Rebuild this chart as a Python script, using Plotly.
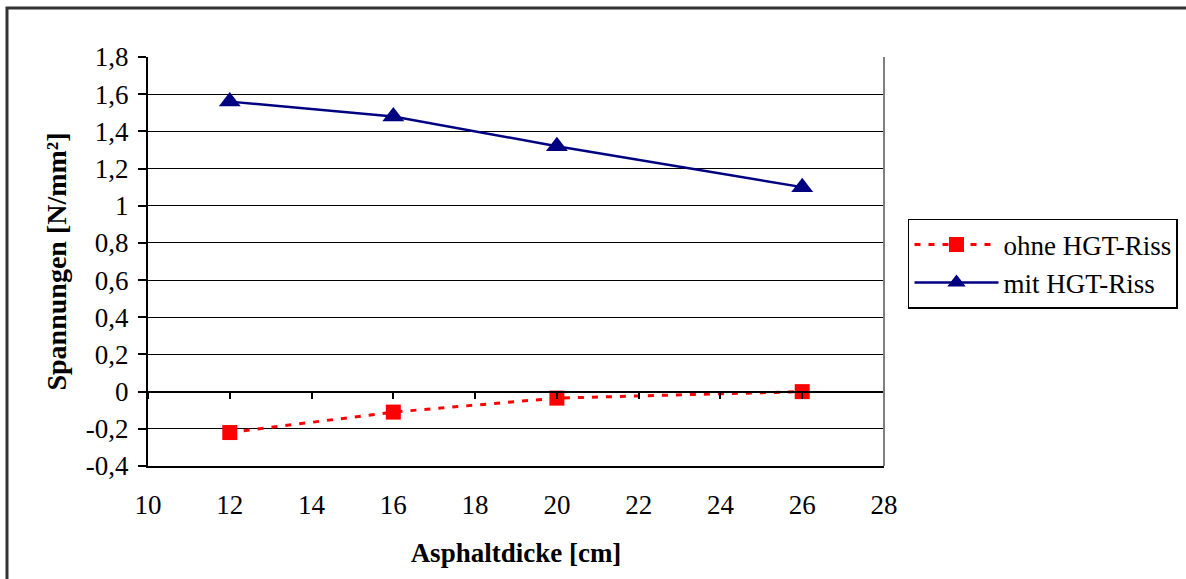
import plotly.graph_objects as go

x_vals = [12, 16, 20, 26]
ohne = [-0.22, -0.11, -0.035, 0.0]
mit = [1.56, 1.48, 1.32, 1.10]

y_ticks = [-0.4, -0.2, 0, 0.2, 0.4, 0.6, 0.8, 1, 1.2, 1.4, 1.6, 1.8]
y_ticktext = ["-0,4", "-0,2", "0", "0,2", "0,4", "0,6", "0,8", "1", "1,2", "1,4", "1,6", "1,8"]
x_ticks = [10, 12, 14, 16, 18, 20, 22, 24, 26, 28]

FONT = "Liberation Serif, Times New Roman, serif"
FS = 27

fig = go.Figure()
fig.add_trace(go.Scatter(
    x=x_vals, y=ohne, name="ohne HGT-Riss", mode="lines+markers",
    line=dict(color="#FF0000", width=3, dash="6px,8px"),
    marker=dict(symbol="square", size=15, color="#FF0000"),
))
fig.add_trace(go.Scatter(
    x=x_vals, y=mit, name="mit HGT-Riss", mode="lines+markers",
    line=dict(color="#000080", width=2.5),
    marker=dict(symbol="triangle-up", size=19, color="#000080"),
))
# axis-crossing line at y=0 with tick marks
fig.add_trace(go.Scatter(x=[10, 28], y=[0, 0], xaxis="x2", mode="lines",
                         line=dict(color="rgba(0,0,0,0)"), showlegend=False, hoverinfo="skip"))

ymin, ymax = -0.4, 1.8
fig.update_layout(
    width=1186, height=579,
    margin=dict(l=148, r=302, t=57, b=113, autoexpand=False),
    paper_bgcolor="white", plot_bgcolor="white",
    font=dict(family=FONT, size=FS, color="black"),
    showlegend=True,
    legend=dict(
        x=1.0326, y=0.604, xanchor="left", yanchor="top",
        bordercolor="black", borderwidth=1.5, bgcolor="white",
        font=dict(family=FONT, size=FS, color="black"),
        itemwidth=84, tracegroupgap=0,
    ),
    xaxis=dict(
        range=[10, 28], tickvals=x_ticks, ticktext=[str(v) for v in x_ticks],
        showgrid=False, zeroline=False, ticks="", showline=True,
        linecolor="black", linewidth=2, ticklabelstandoff=14,
        title=dict(text="<b>Asphaltdicke [cm]</b>", font=dict(family=FONT, size=FS), standoff=24),
        tickfont=dict(family=FONT, size=FS),
    ),
    xaxis2=dict(
        range=[10, 28], overlaying="x", anchor="free",
        position=(0 - ymin) / (ymax - ymin), side="bottom",
        tickvals=x_ticks, showticklabels=False, ticks="outside", ticklen=7,
        tickcolor="black", tickwidth=1.5, showline=True, linecolor="black",
        linewidth=1.5, showgrid=False, zeroline=False,
    ),
    yaxis=dict(
        range=[ymin, ymax], tickvals=y_ticks, ticktext=y_ticktext,
        showgrid=True, gridcolor="black", gridwidth=1.2, zeroline=False,
        ticks="outside", ticklen=8, tickcolor="black", tickwidth=1.5,
        showline=True, linecolor="black", linewidth=2, ticklabelstandoff=4,
        tickfont=dict(family=FONT, size=FS),
        title=dict(text="<b>Spannungen [N/mm²]</b>", font=dict(family=FONT, size=28), standoff=11),
    ),
    shapes=[
        dict(type="line", xref="paper", yref="paper", x0=1, x1=1, y0=0, y1=1,
             line=dict(color="#808080", width=2)),
        dict(type="rect", xref="paper", yref="paper",
             x0=(7 - 148) / 736, x1=(1200 - 148) / 736,
             y0=(466 - 600) / 409, y1=(466 - 8) / 409,
             line=dict(color="#333333", width=3), layer="below"),
    ],
)

fig.write_html("out.html")
